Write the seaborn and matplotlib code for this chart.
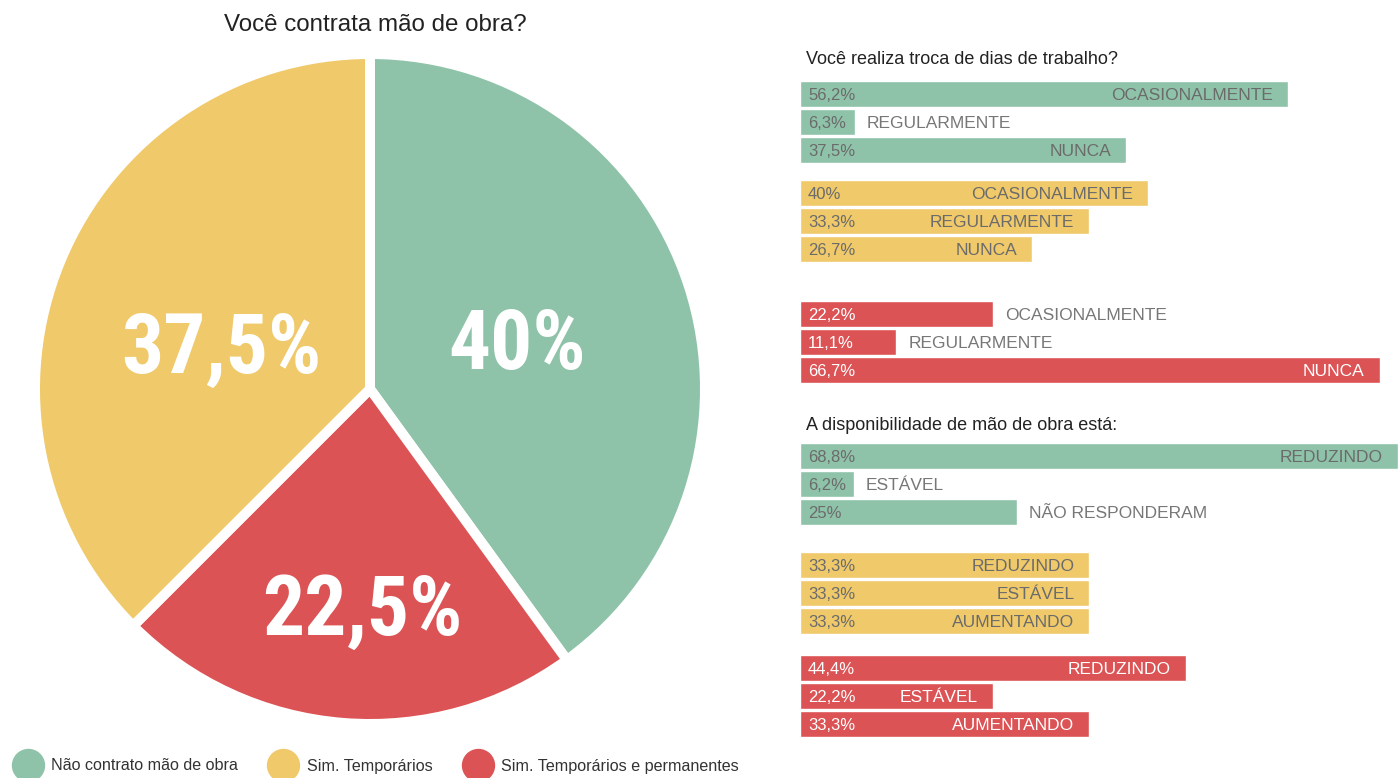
import matplotlib
matplotlib.use("Agg")
import matplotlib.pyplot as plt
from matplotlib.lines import Line2D
from matplotlib.transforms import offset_copy
import numpy as np
import pandas as pd
import seaborn as sns

# ---- data -------------------------------------------------------------
groups = ["Não contrato mão de obra", "Sim. Temporários", "Sim. Temporários e permanentes"]
group_colors = ["#8fc3a9", "#efc96a", "#dc5355"]
hire_share = [40, 37.5, 22.5]

pie_title = "Você contrata mão de obra?"

swap_title = "Você realiza troca de dias de trabalho?"
swap_answers = ["OCASIONALMENTE", "REGULARMENTE", "NUNCA"]
swap_green = [56.2, 6.3, 37.5]
swap_yellow = [40, 33.3, 26.7]
swap_red = [22.2, 11.1, 66.7]

labor_title = "A disponibilidade de mão de obra está:"
labor_answers_green = ["REDUZINDO", "ESTÁVEL", "NÃO RESPONDERAM"]
labor_answers = ["REDUZINDO", "ESTÁVEL", "AUMENTANDO"]
labor_green = [68.8, 6.2, 25]
labor_yellow = [33.3, 33.3, 33.3]
labor_red = [44.4, 22.2, 33.3]

# ---- style ------------------------------------------------------------
sns.set_theme(style="white")
plt.rcParams["font.family"] = ["Liberation Sans", "DejaVu Sans"]

W, H = 1398, 778
fig = plt.figure(figsize=(W / 100, H / 100), dpi=100)
fig.patch.set_facecolor("white")


def px_axes(left, top, width, height):
    return fig.add_axes([left / W, 1 - (top + height) / H, width / W, height / H])


def fmt(v):
    return f"{v:g}".replace(".", ",") + "%"


# ---- pie --------------------------------------------------------------
cx, cy, r = 370, 389, 335
ax_pie = px_axes(cx - r, cy - r, 2 * r, 2 * r)
order = [0, 2, 1]  # clockwise from the top: green, red, yellow
pie_vals = [hire_share[i] for i in order]
pie_cols = [group_colors[i] for i in order]
wedges, _ = ax_pie.pie(
    pie_vals, colors=pie_cols, startangle=90, counterclock=False, radius=1,
    wedgeprops=dict(edgecolor="white", linewidth=7.2),
)
ax_pie.set_xlim(-1, 1)
ax_pie.set_ylim(-1, 1)
# radial distance of each value label plus a small nudge in pixels
label_dist = [0.46, 0.655, 0.46]
label_nudge = [(1, 3), (10, 4), (-6, -12)]
for w, v, d, (nx, ny) in zip(wedges, pie_vals, label_dist, label_nudge):
    ang = np.deg2rad((w.theta1 + w.theta2) / 2)
    ax_pie.text(d * np.cos(ang), d * np.sin(ang), fmt(v),
                ha="center", va="center_baseline", color="white", fontsize=60,
                fontweight="bold", fontstretch="condensed",
                family=["Roboto Condensed", "DejaVu Sans Condensed", "Liberation Sans"],
                transform=offset_copy(ax_pie.transData, fig=fig, x=nx, y=ny, units="dots"))

fig.text(375 / W, 1 - 25 / H, pie_title, ha="center", va="center",
         fontsize=17.4, color="#222222")

# ---- bar groups ---------------------------------------------------------
xmax = max(swap_green + swap_yellow + swap_red + labor_green + labor_yellow + labor_red)
bar_left, bar_width_px = 800, W - 800

bar_groups = [
    (80, swap_answers, swap_green, 0),
    (179, swap_answers, swap_yellow, 1),
    (300, swap_answers, swap_red, 2),
    (442, labor_answers_green, labor_green, 0),
    (551, labor_answers, labor_yellow, 1),
    (654, labor_answers, labor_red, 2),
]

fig.text(806 / W, 1 - 60 / H, swap_title, ha="left", va="center",
         fontsize=13, color="#222222")
fig.text(806 / W, 1 - 425 / H, labor_title, ha="left", va="center",
         fontsize=13, color="#222222")

placed = []
for top, answers, vals, gi in bar_groups:
    ax = px_axes(bar_left, top, bar_width_px, 84)
    df = pd.DataFrame({"resposta": answers, "valor": vals})
    sns.barplot(data=df, x="valor", y="resposta", orient="h",
                color=group_colors[gi], saturation=1, width=26 / 28, ax=ax)
    ax.set_xlim(0, xmax)
    ax.set_ylim(2.5, -0.5)
    ax.axis("off")
    inner = "white" if gi == 2 else "#6b6b6b"
    for i, (a, v) in enumerate(zip(answers, vals)):
        pt = ax.text(0, i, fmt(v), ha="left", va="center_baseline",
                     fontsize=12, color=inner,
                     transform=offset_copy(ax.transData, fig=fig, x=8, y=0, units="dots"))
        lt = ax.text(v, i, a, ha="right", va="center_baseline",
                     fontsize=12.5, color=inner,
                     transform=offset_copy(ax.transData, fig=fig, x=-15, y=0, units="dots"))
        placed.append((ax, v, i, pt, lt))

fig.canvas.draw()
renderer = fig.canvas.get_renderer()
for ax, v, i, pt, lt in placed:
    pb = pt.get_window_extent(renderer)
    lb = lt.get_window_extent(renderer)
    if lb.x0 < pb.x1 + 10:
        lt.set_transform(offset_copy(ax.transData, fig=fig, x=12, y=0, units="dots"))
        lt.set_ha("left")
        lt.set_color("#777777")

# ---- legend -------------------------------------------------------------
handles = [Line2D([], [], marker="o", linestyle="", markersize=23,
                  markerfacecolor=c, markeredgecolor=c, label=g)
           for g, c in zip(groups, group_colors)]
fig.legend(handles=handles, loc="center left", ncol=3, frameon=False,
           bbox_to_anchor=(12 / W, 12 / H), borderaxespad=0, borderpad=0,
           handlelength=2.0, handletextpad=0.45, columnspacing=1.8,
           fontsize=11.6, labelcolor="#333333")

fig.savefig("out.png", dpi=100, facecolor="white")
